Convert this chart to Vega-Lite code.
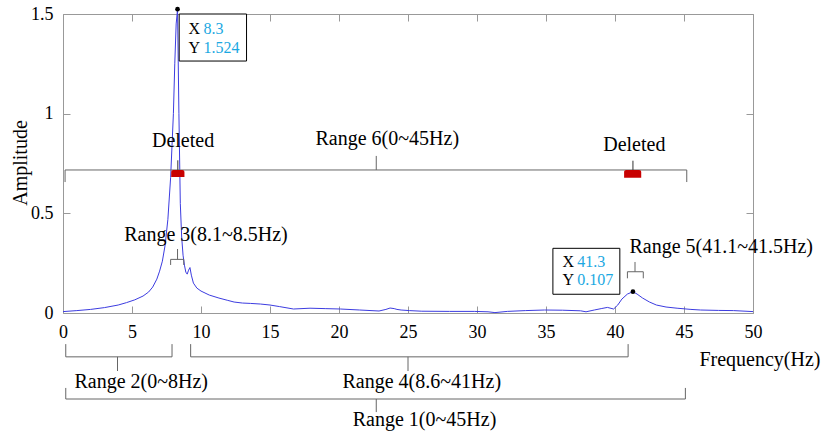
{
  "$schema": "https://vega.github.io/schema/vega-lite/v6.json",
  "width": 690,
  "height": 299,
  "autosize": {"type": "none"},
  "padding": {"left": 63, "top": 14, "right": 72, "bottom": 121},
  "background": "white",
  "config": {
    "view": {"stroke": null},
    "font": "Liberation Serif",
    "axis": {
      "grid": false,
      "domainColor": "#999999",
      "tickColor": "#999999",
      "domainWidth": 1,
      "tickWidth": 1,
      "tickSize": -7,
      "labelFont": "Liberation Serif",
      "labelFontSize": 18,
      "labelColor": "#000000",
      "labelPadding": 17,
      "labelFlush": false,
      "labelOverlap": false,
      "titleFont": "Liberation Serif",
      "titleFontSize": 20,
      "titleFontWeight": "normal",
      "titleColor": "#000000"
    },
    "text": {"font": "Liberation Serif"}
  },
  "datasets": {
    "spectrum": [
      {"f": 0, "amp": 0.007}, {"f": 1, "amp": 0.012}, {"f": 2, "amp": 0.018}, {"f": 3, "amp": 0.027},
      {"f": 4, "amp": 0.04}, {"f": 4.6, "amp": 0.052}, {"f": 5.2, "amp": 0.066}, {"f": 5.8, "amp": 0.085},
      {"f": 6.2, "amp": 0.105}, {"f": 6.5, "amp": 0.13}, {"f": 6.8, "amp": 0.17}, {"f": 7.0, "amp": 0.21},
      {"f": 7.2, "amp": 0.26}, {"f": 7.4, "amp": 0.34}, {"f": 7.6, "amp": 0.47}, {"f": 7.8, "amp": 0.68},
      {"f": 8.0, "amp": 1.0}, {"f": 8.1, "amp": 1.25}, {"f": 8.2, "amp": 1.45}, {"f": 8.3, "amp": 1.524},
      {"f": 8.4, "amp": 1.0}, {"f": 8.5, "amp": 0.55}, {"f": 8.6, "amp": 0.38}, {"f": 8.7, "amp": 0.29},
      {"f": 8.8, "amp": 0.24}, {"f": 8.9, "amp": 0.205}, {"f": 9.0, "amp": 0.195}, {"f": 9.1, "amp": 0.215},
      {"f": 9.2, "amp": 0.228}, {"f": 9.3, "amp": 0.19}, {"f": 9.45, "amp": 0.15}, {"f": 9.7, "amp": 0.125},
      {"f": 10.0, "amp": 0.11}, {"f": 10.6, "amp": 0.09}, {"f": 11.3, "amp": 0.075}, {"f": 11.9, "amp": 0.064},
      {"f": 12.4, "amp": 0.055}, {"f": 13.0, "amp": 0.05}, {"f": 13.6, "amp": 0.048}, {"f": 14.3, "amp": 0.045},
      {"f": 15.0, "amp": 0.04}, {"f": 15.7, "amp": 0.032}, {"f": 16.7, "amp": 0.02}, {"f": 17.9, "amp": 0.024},
      {"f": 19.0, "amp": 0.022}, {"f": 20.1, "amp": 0.02}, {"f": 21.5, "amp": 0.015}, {"f": 22.9, "amp": 0.01},
      {"f": 23.4, "amp": 0.018}, {"f": 23.7, "amp": 0.025}, {"f": 24.0, "amp": 0.022}, {"f": 24.2, "amp": 0.018},
      {"f": 24.5, "amp": 0.015}, {"f": 25.1, "amp": 0.012}, {"f": 26.0, "amp": 0.009}, {"f": 28.0, "amp": 0.008},
      {"f": 29.8, "amp": 0.008}, {"f": 30.8, "amp": 0.006}, {"f": 31.3, "amp": 0.002}, {"f": 32.2, "amp": 0.008},
      {"f": 33.5, "amp": 0.012}, {"f": 34.9, "amp": 0.015}, {"f": 36.2, "amp": 0.014}, {"f": 37.5, "amp": 0.011},
      {"f": 37.9, "amp": 0.006}, {"f": 38.5, "amp": 0.015}, {"f": 39.0, "amp": 0.022}, {"f": 39.45, "amp": 0.028},
      {"f": 39.9, "amp": 0.02}, {"f": 40.2, "amp": 0.04}, {"f": 40.5, "amp": 0.07}, {"f": 40.9, "amp": 0.095},
      {"f": 41.3, "amp": 0.107}, {"f": 41.6, "amp": 0.095}, {"f": 42.0, "amp": 0.075}, {"f": 42.5, "amp": 0.055},
      {"f": 43.0, "amp": 0.04}, {"f": 43.7, "amp": 0.03}, {"f": 44.5, "amp": 0.024}, {"f": 45.5, "amp": 0.018},
      {"f": 46.2, "amp": 0.015}, {"f": 47.5, "amp": 0.013}, {"f": 48.6, "amp": 0.012}, {"f": 50.0, "amp": 0.007}
    ],
    "tips": [
      {"f": 8.3, "amp": 1.524},
      {"f": 41.3, "amp": 0.107}
    ],
    "tipBoxes": [
      {"x0": 8.42, "x1": 13.3, "y0": 1.264, "y1": 1.5},
      {"x0": 35.5, "x1": 40.35, "y0": 0.094, "y1": 0.3245}
    ],
    "tipText": [
      {"kx": 9.1, "vx": 10.18, "ty": 1.398, "key": "X", "val": "8.3"},
      {"kx": 9.1, "vx": 10.18, "ty": 1.303, "key": "Y", "val": "1.524"},
      {"kx": 36.2, "vx": 37.27, "ty": 0.229, "key": "X", "val": "41.3"},
      {"kx": 36.2, "vx": 37.27, "ty": 0.1405, "key": "Y", "val": "0.107"}
    ],
    "braces": [
      {"name": "Range 6", "lo": 0.15, "hi": 45.2, "mid": 22.7, "yLine": 0.7175, "yEnd": 0.657, "yTip": 0.788},
      {"name": "Range 3", "lo": 7.8, "hi": 8.75, "mid": 8.3, "yLine": 0.269, "yEnd": 0.241, "yTip": 0.321},
      {"name": "Range 5", "lo": 40.9, "hi": 42.05, "mid": 41.45, "yLine": 0.207, "yEnd": 0.174, "yTip": 0.256},
      {"name": "Range 2", "lo": 0.2, "hi": 7.9, "mid": 3.95, "yLine": -0.22, "yEnd": -0.156, "yTip": -0.291},
      {"name": "Range 4", "lo": 9.25, "hi": 40.95, "mid": 25.0, "yLine": -0.22, "yEnd": -0.156, "yTip": -0.291},
      {"name": "Range 1", "lo": 0.2, "hi": 45.1, "mid": 22.7, "yLine": -0.4315, "yEnd": -0.376, "yTip": -0.497}
    ],
    "deleted": [
      {"lo": 7.84, "hi": 8.8, "mid": 8.32, "yBot": 0.682, "yTop": 0.7175, "yTick": 0.766},
      {"lo": 40.66, "hi": 41.9, "mid": 41.3, "yBot": 0.678, "yTop": 0.7175, "yTick": 0.764}
    ],
    "notes": [
      {"label": "Range 6(0~45Hz)", "f": 23.5, "a": 0.843},
      {"label": "Deleted", "f": 8.7, "a": 0.835},
      {"label": "Deleted", "f": 41.4, "a": 0.814},
      {"label": "Range 3(8.1~8.5Hz)", "f": 10.36, "a": 0.361},
      {"label": "Range 5(41.1~41.5Hz)", "f": 47.7, "a": 0.3025},
      {"label": "Range 2(0~8Hz)", "f": 5.67, "a": -0.378},
      {"label": "Range 4(8.6~41Hz)", "f": 26.0, "a": -0.378},
      {"label": "Range 1(0~45Hz)", "f": 26.2, "a": -0.5655}
    ]
  },
  "layer": [
    {
      "data": {"name": "spectrum"},
      "mark": {"type": "line", "color": "#3c3ce0", "strokeWidth": 1},
      "encoding": {
        "x": {
          "field": "f", "type": "quantitative",
          "scale": {"domain": [0, 50], "nice": false, "zero": false},
          "axis": {
            "orient": "bottom",
            "values": [0, 5, 10, 15, 20, 25, 30, 35, 40, 45, 50],
            "title": "Frequency(Hz)",
            "titleX": 757, "titleY": 52,
            "titleAlign": "right", "titleBaseline": "alphabetic", "titleAnchor": "start"
          }
        },
        "y": {
          "field": "amp", "type": "quantitative",
          "scale": {"domain": [0, 1.5], "nice": false, "zero": false},
          "axis": {
            "orient": "left",
            "values": [0, 0.5, 1, 1.5],
            "format": "~g",
            "title": "Amplitude",
            "titleX": -36.5, "titleY": 148.5,
            "titleAngle": -90, "titleAlign": "center", "titleBaseline": "alphabetic", "titleAnchor": "start"
          }
        }
      }
    },
    {
      "data": {"name": "braces"},
      "mark": {"type": "rule", "color": "#666666", "strokeWidth": 1},
      "encoding": {
        "x": {"field": "lo", "type": "quantitative", "scale": {"domain": [0, 50], "nice": false, "zero": false}, "axis": null},
        "x2": {"field": "hi"},
        "y": {"field": "yLine", "type": "quantitative", "scale": {"domain": [0, 1.5], "nice": false, "zero": false}, "axis": null}
      }
    },
    {
      "data": {"name": "braces"},
      "mark": {"type": "rule", "color": "#666666", "strokeWidth": 1},
      "encoding": {
        "x": {"field": "lo", "type": "quantitative", "scale": {"domain": [0, 50], "nice": false, "zero": false}, "axis": null},
        "y": {"field": "yLine", "type": "quantitative", "scale": {"domain": [0, 1.5], "nice": false, "zero": false}, "axis": null},
        "y2": {"field": "yEnd"}
      }
    },
    {
      "data": {"name": "braces"},
      "mark": {"type": "rule", "color": "#666666", "strokeWidth": 1},
      "encoding": {
        "x": {"field": "hi", "type": "quantitative", "scale": {"domain": [0, 50], "nice": false, "zero": false}, "axis": null},
        "y": {"field": "yLine", "type": "quantitative", "scale": {"domain": [0, 1.5], "nice": false, "zero": false}, "axis": null},
        "y2": {"field": "yEnd"}
      }
    },
    {
      "data": {"name": "braces"},
      "mark": {"type": "rule", "color": "#666666", "strokeWidth": 1},
      "encoding": {
        "x": {"field": "mid", "type": "quantitative", "scale": {"domain": [0, 50], "nice": false, "zero": false}, "axis": null},
        "y": {"field": "yLine", "type": "quantitative", "scale": {"domain": [0, 1.5], "nice": false, "zero": false}, "axis": null},
        "y2": {"field": "yTip"}
      }
    },
    {
      "data": {"name": "deleted"},
      "mark": {"type": "rect", "color": "#c80000", "cornerRadiusTopLeft": 2, "cornerRadiusTopRight": 2},
      "encoding": {
        "x": {"field": "lo", "type": "quantitative", "scale": {"domain": [0, 50], "nice": false, "zero": false}, "axis": null},
        "x2": {"field": "hi"},
        "y": {"field": "yTop", "type": "quantitative", "scale": {"domain": [0, 1.5], "nice": false, "zero": false}, "axis": null},
        "y2": {"field": "yBot"}
      }
    },
    {
      "data": {"name": "deleted"},
      "mark": {"type": "rule", "color": "#333333", "strokeWidth": 1},
      "encoding": {
        "x": {"field": "mid", "type": "quantitative", "scale": {"domain": [0, 50], "nice": false, "zero": false}, "axis": null},
        "y": {"field": "yTop", "type": "quantitative", "scale": {"domain": [0, 1.5], "nice": false, "zero": false}, "axis": null},
        "y2": {"field": "yTick"}
      }
    },
    {
      "data": {"name": "tipBoxes"},
      "mark": {"type": "rect", "fill": "#ffffff", "stroke": "#000000", "strokeWidth": 1},
      "encoding": {
        "x": {"field": "x0", "type": "quantitative", "scale": {"domain": [0, 50], "nice": false, "zero": false}, "axis": null},
        "x2": {"field": "x1"},
        "y": {"field": "y0", "type": "quantitative", "scale": {"domain": [0, 1.5], "nice": false, "zero": false}, "axis": null},
        "y2": {"field": "y1"}
      }
    },
    {
      "data": {"name": "tipText"},
      "mark": {"type": "text", "align": "left", "baseline": "alphabetic", "fontSize": 16, "color": "#000000"},
      "encoding": {
        "x": {"field": "kx", "type": "quantitative", "scale": {"domain": [0, 50], "nice": false, "zero": false}, "axis": null},
        "y": {"field": "ty", "type": "quantitative", "scale": {"domain": [0, 1.5], "nice": false, "zero": false}, "axis": null},
        "text": {"field": "key"}
      }
    },
    {
      "data": {"name": "tipText"},
      "mark": {"type": "text", "align": "left", "baseline": "alphabetic", "fontSize": 16, "color": "#1ba8e2"},
      "encoding": {
        "x": {"field": "vx", "type": "quantitative", "scale": {"domain": [0, 50], "nice": false, "zero": false}, "axis": null},
        "y": {"field": "ty", "type": "quantitative", "scale": {"domain": [0, 1.5], "nice": false, "zero": false}, "axis": null},
        "text": {"field": "val"}
      }
    },
    {
      "data": {"name": "notes"},
      "mark": {"type": "text", "align": "center", "baseline": "alphabetic", "fontSize": 20, "color": "#000000"},
      "encoding": {
        "x": {"field": "f", "type": "quantitative", "scale": {"domain": [0, 50], "nice": false, "zero": false}, "axis": null},
        "y": {"field": "a", "type": "quantitative", "scale": {"domain": [0, 1.5], "nice": false, "zero": false}, "axis": null},
        "text": {"field": "label"}
      }
    },
    {
      "data": {"name": "tips"},
      "mark": {"type": "point", "filled": true, "color": "#000000", "size": 22, "opacity": 1},
      "encoding": {
        "x": {
          "field": "f", "type": "quantitative",
          "scale": {"domain": [0, 50], "nice": false, "zero": false},
          "axis": {"orient": "top", "values": [0, 5, 10, 15, 20, 25, 30, 35, 40, 45, 50], "labels": false, "title": null}
        },
        "y": {
          "field": "amp", "type": "quantitative",
          "scale": {"domain": [0, 1.5], "nice": false, "zero": false},
          "axis": {"orient": "right", "values": [0, 0.5, 1, 1.5], "labels": false, "title": null}
        }
      }
    }
  ],
  "resolve": {"axis": {"x": "independent", "y": "independent"}}
}
